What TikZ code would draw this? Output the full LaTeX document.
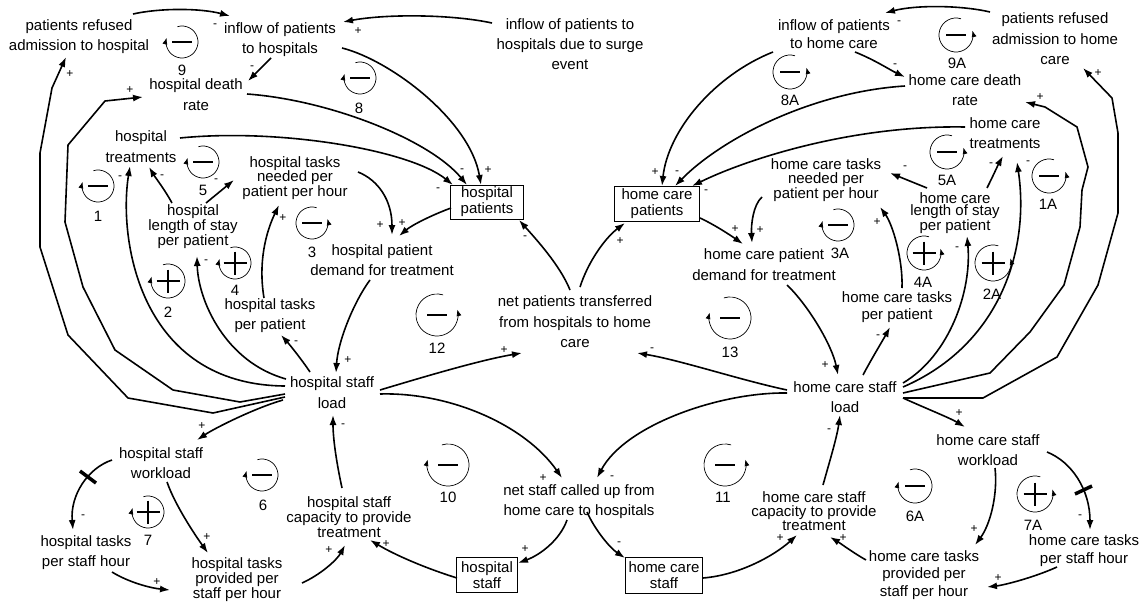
\documentclass[tikz,border=0pt]{standalone}
\usepackage{fontspec}
\setmainfont{Liberation Sans}
\usetikzlibrary{arrows.meta}
\newcommand\mk[3]{\expandafter\def\csname #1X\endcsname{#2}\expandafter\def\csname #1Y\endcsname{#3}}
\newcommand\nd[5]{\mk{#1}{#2}{#3}\node[txt,font=\fontsize{15}{#4}\selectfont] (#1) at (#2,#3) {#5};}
\newcommand\bx[6]{\mk{#1}{#2}{#3}\node[bxs,minimum width=#4pt,minimum height=#5pt] (#1) at (#2,#3) {#6};}
\newcommand\pl[4]{\node[pol] (#1) at (#2,#3) {#4};}
\newcommand\lpL[3]{\draw[lp] (#1,#2) ++(-107:#3) arc[start angle=-107,end angle=195,radius=#3];}
\newcommand\lpR[3]{\draw[lp] (#1,#2) ++(-73:#3) arc[start angle=-73,end angle=-375,radius=#3];}
\newcommand\sgM[2]{\draw[line width=2pt] ({#1-10},#2) -- ({#1+10},#2);}
\newcommand\sgP[2]{\draw[line width=1.2pt] ({#1-11.5},#2) -- ({#1+11.5},#2) (#1,{#2-11.5}) -- (#1,{#2+11.5});}
\newcommand\lbl[4]{\node[num] (#1) at (#2,#3) {#4};}
\begin{document}
\begin{tikzpicture}[x=1pt,y=-1pt,
 txt/.style={align=center,inner sep=0pt},
 bxs/.style={draw,line width=0.9pt,inner sep=0pt,align=center,font=\fontsize{15}{16}\selectfont},
 arr/.style={line width=1.6pt,line join=round,-{Latex[length=10pt,width=7pt]}},
 pol/.style={inner sep=0pt,font=\fontsize{12}{12}\selectfont},
 lp/.style={line width=0.7pt,-{Latex[length=6.5pt,width=5pt]}},
 num/.style={inner sep=0pt,font=\fontsize{15}{15}\selectfont}]
\useasboundingbox (0,0) rectangle (1143,602);
% ---------- variables ----------
\nd{prh}{79}{37}{20}{patients refused\\admission to hospital}
\nd{iph}{280}{40}{20}{inflow of patients\\to hospitals}
\nd{surge}{570}{44}{20}{inflow of patients to\\hospitals due to surge\\event}
\nd{hdr}{196}{95}{21}{hospital death\\rate}
\nd{htr}{141}{147}{21}{hospital\\treatments}
\nd{htn}{295}{178}{14.5}{hospital tasks\\needed per\\patient per hour}
\nd{hlos}{193}{227}{12}{hospital\\length of stay\\per patient}
\nd{htp}{270}{316}{20}{hospital tasks\\per patient}
\bx{hp}{487}{202}{73}{34}{hospital\\patients}
\nd{hpd}{382}{260}{20}{hospital patient\\demand for treatment}
\nd{npt}{575}{322}{20.5}{net patients transferred\\from hospitals to home\\care}
\nd{hsl}{332}{393}{21}{hospital staff\\load}
\nd{hsw}{161}{463}{20}{hospital staff\\workload}
\nd{htsh}{86}{553}{20}{hospital tasks\\per staff hour}
\nd{htps}{237}{580}{15}{hospital tasks\\provided per\\staff per hour}
\nd{hsc}{349}{517}{15}{hospital staff\\capacity to provide\\treatment}
\bx{hs}{487}{575}{61}{35}{hospital\\staff}
\nd{nsc}{579}{502}{20}{net staff called up from\\home care to hospitals}
\bx{hcs}{664}{575}{77}{36}{home care\\staff}
\nd{hcsc}{814}{511}{14}{home care staff\\capacity to provide\\treatment}
\nd{hcsl}{845}{397}{20}{home care staff\\load}
\nd{hcsw}{988}{450}{20}{home care staff\\workload}
\nd{hctsh}{1084}{551}{18}{home care tasks\\per staff hour}
\nd{hctps}{924}{575}{17.5}{home care tasks\\provided per\\staff per hour}
\bx{hcp}{657}{204}{85}{35}{home care\\patients}
\nd{hcpd}{764}{265}{21}{home care patient\\demand for treatment}
\nd{hctn}{826}{180}{13.5}{home care tasks\\needed per\\patient per hour}
\nd{hclos}{955}{213}{12}{home care\\length of stay\\per patient}
\nd{hctp}{897}{307}{17}{home care tasks\\per patient}
\nd{hctr}{1005}{133}{20}{home care\\treatments}
\nd{hcdr}{965}{90}{20}{home care death\\rate}
\nd{iphc}{834}{34}{18}{inflow of patients\\to home care}
\nd{prhc}{1055}{39}{20.5}{patients refused\\admission to home\\care}
% ---------- hospital side links ----------
\draw[arr] ([shift={({133-\prhX},{14-\prhY})}]prh.center) .. controls (160,8) and (200,8) .. ([shift={({230-\iphX},{16-\iphY})}]iph.center);
\draw[arr] ([shift={({492-\surgeX},{23-\surgeY})}]surge.center) .. controls (450,14) and (385,14) .. ([shift={({343-\iphX},{22-\iphY})}]iph.center);
\draw[arr] ([shift={({271-\iphX},{58-\iphY})}]iph.center) -- ([shift={({248-\hdrX},{81-\hdrY})}]hdr.center);
\draw[arr] ([shift={({342-\iphX},{48-\iphY})}]iph.center) .. controls (390,60) and (470,120) .. ([shift={({481-\hpX},{185-\hpY})}]hp.center);
\draw[arr] ([shift={({247-\hdrX},{94-\hdrY})}]hdr.center) .. controls (330,100) and (430,140) .. ([shift={({467-\hpX},{185-\hpY})}]hp.center);
\draw[arr] ([shift={({180-\htrX},{138-\htrY})}]htr.center) .. controls (280,128) and (410,150) .. ([shift={({453-\hpX},{185-\hpY})}]hp.center);
\draw[arr] ([shift={({358-\htnX},{172-\htnY})}]htn.center) .. controls (378,180) and (392,200) .. ([shift={({392-\hpdX},{235-\hpdY})}]hpd.center);
\draw[arr] ([shift={({451-\hpX},{208-\hpY})}]hp.center) .. controls (432,215) and (412,225) .. ([shift={({399-\hpdX},{236-\hpdY})}]hpd.center);
\draw[arr] ([shift={({370-\hpdX},{280-\hpdY})}]hpd.center) .. controls (355,300) and (338,340) .. ([shift={({336-\hslX},{373-\hslY})}]hsl.center);
\draw[arr] ([shift={({310-\hslX},{372-\hslY})}]hsl.center) .. controls (302,360) and (290,345) .. ([shift={({281-\htpX},{335-\htpY})}]htp.center);
\draw[arr] ([shift={({264-\htpX},{298-\htpY})}]htp.center) .. controls (258,262) and (266,232) .. ([shift={({279-\htnX},{205-\htnY})}]htn.center);
\draw[arr] ([shift={({206-\hlosX},{203-\hlosY})}]hlos.center) -- ([shift={({234-\htnX},{180-\htnY})}]htn.center);
\draw[arr] ([shift={({172-\hlosX},{203-\hlosY})}]hlos.center) .. controls (165,190) and (155,177) .. ([shift={({149-\htrX},{167-\htrY})}]htr.center);
\draw[arr] ([shift={({285-\hslX},{386-\hslY})}]hsl.center) .. controls (140,385) and (118,240) .. ([shift={({130-\htrX},{166-\htrY})}]htr.center);
\draw[arr] ([shift={({286-\hslX},{379-\hslY})}]hsl.center) .. controls (225,362) and (198,300) .. ([shift={({197-\hlosX},{256-\hlosY})}]hlos.center);
\draw[arr] ([shift={({285-\hslX},{394-\hslY})}]hsl.center) -- (240,402) -- (173,390) -- (115,350) -- (83,287) -- (65,222) -- (68,145) -- (105,101) -- ([shift={({143-\hdrX},{97-\hdrY})}]hdr.center);
\draw[arr] ([shift={({285-\hslX},{397-\hslY})}]hsl.center) -- (213,413) -- (128,398) -- (68,335) -- (40,247) -- (40,153) -- (52,88) -- ([shift={({66-\prhX},{57-\prhY})}]prh.center);
\draw[arr] ([shift={({380-\hslX},{390-\hslY})}]hsl.center) .. controls (420,378) and (480,360) .. ([shift={({522-\nptX},{353-\nptY})}]npt.center);
\draw[arr] ([shift={({380-\hslX},{394-\hslY})}]hsl.center) .. controls (450,392) and (525,425) .. ([shift={({562-\nscX},{478-\nscY})}]nsc.center);
\draw[arr] ([shift={({570-\nptX},{290-\nptY})}]npt.center) .. controls (560,265) and (535,238) .. ([shift={({519-\hpX},{220-\hpY})}]hp.center);
\draw[arr] ([shift={({342-\hscX},{488-\hscY})}]hsc.center) .. controls (337,465) and (333,440) .. ([shift={({333-\hslX},{415-\hslY})}]hsl.center);
\draw[arr] ([shift={({457-\hsX},{578-\hsY})}]hs.center) .. controls (425,568) and (395,555) .. ([shift={({370-\hscX},{540-\hscY})}]hsc.center);
\draw[arr] ([shift={({302-\htpsX},{583-\htpsY})}]htps.center) .. controls (320,575) and (337,560) .. ([shift={({345-\hscX},{545-\hscY})}]hsc.center);
\draw[arr] ([shift={({567-\nscX},{520-\nscY})}]nsc.center) .. controls (560,540) and (540,555) .. ([shift={({518-\hsX},{563-\hsY})}]hs.center);
\draw[arr] ([shift={({283-\hslX},{400-\hslY})}]hsl.center) .. controls (255,408) and (215,428) .. ([shift={({197-\hswX},{440-\hswY})}]hsw.center);
\draw[arr] ([shift={({112-\hswX},{460-\hswY})}]hsw.center) .. controls (88,468) and (70,495) .. ([shift={({73-\htshX},{530-\htshY})}]htsh.center);
\draw[arr] ([shift={({167-\hswX},{482-\hswY})}]hsw.center) .. controls (175,505) and (195,535) .. ([shift={({208-\htpsX},{553-\htpsY})}]htps.center);
\draw[arr] ([shift={({112-\htshX},{572-\htshY})}]htsh.center) .. controls (128,582) and (150,588) .. ([shift={({170-\htpsX},{590-\htpsY})}]htps.center);
\draw[line width=3.5pt] (80,471) -- (96,483);
% ---------- home care side links ----------
\draw[arr] ([shift={({990-\prhcX},{12-\prhcY})}]prhc.center) .. controls (960,5) and (915,5) .. ([shift={({885-\iphcX},{13-\iphcY})}]iphc.center);
\draw[arr] ([shift={({855-\iphcX},{52-\iphcY})}]iphc.center) .. controls (875,60) and (890,70) .. ([shift={({905-\hcdrX},{77-\hcdrY})}]hcdr.center);
\draw[arr] ([shift={({773-\iphcX},{52-\iphcY})}]iphc.center) .. controls (715,75) and (668,130) .. ([shift={({662-\hcpX},{186-\hcpY})}]hcp.center);
\draw[arr] ([shift={({905-\hcdrX},{86-\hcdrY})}]hcdr.center) .. controls (810,92) and (720,140) .. ([shift={({675-\hcpX},{186-\hcpY})}]hcp.center);
\draw[arr] ([shift={({965-\hctrX},{127-\hctrY})}]hctr.center) .. controls (850,125) and (745,160) .. ([shift={({692-\hcpX},{186-\hcpY})}]hcp.center);
\draw[arr] ([shift={({700-\hcpX},{218-\hcpY})}]hcp.center) .. controls (715,225) and (730,235) .. ([shift={({743-\hcpdX},{244-\hcpdY})}]hcpd.center);
\draw[arr] ([shift={({762-\hctnX},{197-\hctnY})}]hctn.center) .. controls (753,205) and (751,225) .. ([shift={({752-\hcpdX},{243-\hcpdY})}]hcpd.center);
\draw[arr] ([shift={({580-\nptX},{287-\nptY})}]npt.center) .. controls (588,262) and (605,238) .. ([shift={({625-\hcpX},{223-\hcpY})}]hcp.center);
\draw[arr] ([shift={({787-\hcpdX},{285-\hcpdY})}]hcpd.center) .. controls (808,305) and (832,345) .. ([shift={({838-\hcslX},{375-\hcslY})}]hcsl.center);
\draw[arr] ([shift={({787-\hcslX},{390-\hcslY})}]hcsl.center) .. controls (740,380) and (680,360) .. ([shift={({637-\nptX},{353-\nptY})}]npt.center);
\draw[arr] ([shift={({787-\hcslX},{393-\hcslY})}]hcsl.center) .. controls (720,392) and (625,425) .. ([shift={({597-\nscX},{478-\nscY})}]nsc.center);
\draw[arr] ([shift={({587-\nscX},{512-\nscY})}]nsc.center) .. controls (595,530) and (610,548) .. ([shift={({625-\hcsX},{558-\hcsY})}]hcs.center);
\draw[arr] ([shift={({703-\hcsX},{578-\hcsY})}]hcs.center) .. controls (740,575) and (775,555) .. ([shift={({797-\hcscX},{535-\hcscY})}]hcsc.center);
\draw[arr] ([shift={({823-\hcscX},{485-\hcscY})}]hcsc.center) .. controls (830,460) and (837,437) .. ([shift={({840-\hcslX},{415-\hcslY})}]hcsl.center);
\draw[arr] ([shift={({866-\hctpsX},{560-\hctpsY})}]hctps.center) .. controls (852,552) and (840,543) .. ([shift={({830-\hcscX},{537-\hcscY})}]hcsc.center);
\draw[arr] ([shift={({903-\hcslX},{398-\hcslY})}]hcsl.center) .. controls (925,408) and (950,418) .. ([shift={({965-\hcswX},{427-\hcswY})}]hcsw.center);
\draw[arr] ([shift={({1047-\hcswX},{452-\hcswY})}]hcsw.center) .. controls (1072,462) and (1090,490) .. ([shift={({1090-\hctshX},{530-\hctshY})}]hctsh.center);
\draw[arr] ([shift={({995-\hcswX},{468-\hcswY})}]hcsw.center) .. controls (998,495) and (990,525) .. ([shift={({975-\hctpsX},{545-\hctpsY})}]hctps.center);
\draw[arr] ([shift={({1057-\hctshX},{567-\hctshY})}]hctsh.center) .. controls (1035,577) and (1005,585) .. ([shift={({987-\hctpsX},{587-\hctpsY})}]hctps.center);
\draw[line width=3.5pt] (1075,494) -- (1092,486);
\draw[arr] ([shift={({863-\hcslX},{375-\hcslY})}]hcsl.center) .. controls (872,358) and (883,340) .. ([shift={({890-\hctpX},{327-\hctpY})}]hctp.center);
\draw[arr] ([shift={({902-\hctpX},{288-\hctpY})}]hctp.center) .. controls (903,260) and (893,225) .. ([shift={({880-\hctnX},{207-\hctnY})}]hctn.center);
\draw[arr] ([shift={({927-\hclosX},{188-\hclosY})}]hclos.center) -- ([shift={({890-\hctnX},{173-\hctnY})}]hctn.center);
\draw[arr] ([shift={({987-\hclosX},{188-\hclosY})}]hclos.center) .. controls (993,176) and (998,165) .. ([shift={({1003-\hctrX},{156-\hctrY})}]hctr.center);
\draw[arr] ([shift={({903-\hcslX},{387-\hcslY})}]hcsl.center) .. controls (1000,345) and (1030,250) .. ([shift={({1017-\hctrX},{162-\hctrY})}]hctr.center);
\draw[arr] ([shift={({903-\hcslX},{383-\hcslY})}]hcsl.center) .. controls (950,355) and (972,290) .. ([shift={({967-\hclosX},{236-\hclosY})}]hclos.center);
\draw[arr] ([shift={({903-\hcslX},{393-\hcslY})}]hcsl.center) -- (990,373) -- (1030,332) -- (1064,285) -- (1080,227) -- (1082,190) -- (1088,167) -- (1077,127) -- (1045,107) -- ([shift={({1025-\hcdrX},{102-\hcdrY})}]hcdr.center);
\draw[arr] ([shift={({903-\hcslX},{398-\hcslY})}]hcsl.center) -- (983,398) -- (1057,357) -- (1098,285) -- (1118,213) -- (1118,133) -- (1112,98) -- ([shift={({1083-\prhcX},{68-\prhcY})}]prhc.center);
% ---------- polarities ----------
\pl{p1}{215}{26}{-}  \pl{p2}{358}{31}{+}  \pl{p3}{252}{68}{-}  \pl{p4}{488}{170}{+}
\pl{p5}{462}{171}{-} \pl{p6}{438}{190}{-} \pl{p7}{380}{225}{+} \pl{p8}{402}{223}{+}
\pl{p9}{348}{360}{+} \pl{p10}{296}{343}{-} \pl{p11}{283}{218}{+} \pl{p12}{216}{181}{-}
\pl{p13}{162}{177}{-} \pl{p14}{120}{178}{-} \pl{p15}{206}{262}{-} \pl{p16}{130}{90}{+}
\pl{p17}{70}{74}{+} \pl{p18}{504}{350}{+} \pl{p19}{543}{478}{+} \pl{p20}{525}{238}{-}
\pl{p21}{343}{426}{-} \pl{p22}{386}{544}{+} \pl{p23}{329}{550}{+} \pl{p24}{525}{549}{+}
\pl{p25}{202}{426}{+} \pl{p26}{83}{517}{-} \pl{p27}{207}{537}{+} \pl{p28}{157}{582}{+}
\pl{p29}{899}{23}{-} \pl{p30}{895}{66}{-} \pl{p31}{655}{172}{+} \pl{p32}{677}{173}{-}
\pl{p33}{706}{192}{-} \pl{p34}{735}{229}{+} \pl{p35}{760}{230}{+} \pl{p36}{620}{241}{+}
\pl{p37}{825}{365}{+} \pl{p38}{652}{350}{-} \pl{p39}{612}{478}{-} \pl{p40}{619}{544}{-}
\pl{p41}{780}{538}{+} \pl{p42}{829}{431}{-} \pl{p43}{843}{538}{+} \pl{p44}{959}{413}{+}
\pl{p45}{1080}{517}{-} \pl{p46}{974}{529}{+} \pl{p47}{998}{578}{+} \pl{p48}{878}{337}{-}
\pl{p49}{877}{222}{+} \pl{p50}{905}{168}{-} \pl{p51}{991}{165}{-} \pl{p52}{1028}{163}{-}
\pl{p53}{957}{249}{-} \pl{p54}{1040}{97}{+} \pl{p55}{1098}{73}{+}
% ---------- loops ----------
\lpL{182}{42}{16} \sgM{182}{42} \lbl{l9}{182}{70}{9}
\lpL{360}{78}{16} \sgM{360}{78} \lbl{l8}{359}{108}{8}
\lpL{98}{186}{16} \sgM{98}{186} \lbl{l1}{98}{216}{1}
\lpL{203}{162}{16} \sgM{203}{162} \lbl{l5}{203}{190}{5}
\lpL{168}{281}{17} \sgP{168}{281} \lbl{l2}{168}{312}{2}
\lpL{235}{263}{16} \sgP{235}{263} \lbl{l4}{235}{290}{4}
\lpR{312}{223}{16} \sgM{312}{223} \lbl{l3}{312}{252}{3}
\lpR{437}{315}{21} \sgM{437}{315} \lbl{l12}{437}{348}{12}
\lpL{448}{465}{21} \sgM{448}{465} \lbl{l10}{448}{497}{10}
\lpL{262}{475}{16} \sgM{262}{475} \lbl{l6}{263}{505}{6}
\lpL{148}{512}{16} \sgP{148}{512} \lbl{l7}{148}{540}{7}
\lpR{956}{35}{17} \sgM{956}{35} \lbl{l9A}{957}{63}{9A}
\lpR{790}{72}{17} \sgM{790}{72} \lbl{l8A}{790}{100}{8A}
\lpR{947}{152}{17} \sgM{947}{152} \lbl{l5A}{947}{180}{5A}
\lpR{1049}{176}{17} \sgM{1049}{176} \lbl{l1A}{1048}{204}{1A}
\lpL{838}{225}{16} \sgM{838}{225} \lbl{l3A}{840}{253}{3A}
\lpR{924}{253}{17} \sgP{924}{253} \lbl{l4A}{923}{282}{4A}
\lpR{993}{263}{18} \sgP{993}{263} \lbl{l2A}{992}{294}{2A}
\lpL{730}{318}{21} \sgM{730}{318} \lbl{l13}{730}{352}{13}
\lpR{725}{465}{21} \sgM{725}{465} \lbl{l11}{723}{497}{11}
\lpL{915}{486}{17} \sgM{915}{486} \lbl{l6A}{915}{516}{6A}
\lpR{1035}{494}{18} \sgP{1035}{494} \lbl{l7A}{1033}{525}{7A}
\end{tikzpicture}
\end{document}
